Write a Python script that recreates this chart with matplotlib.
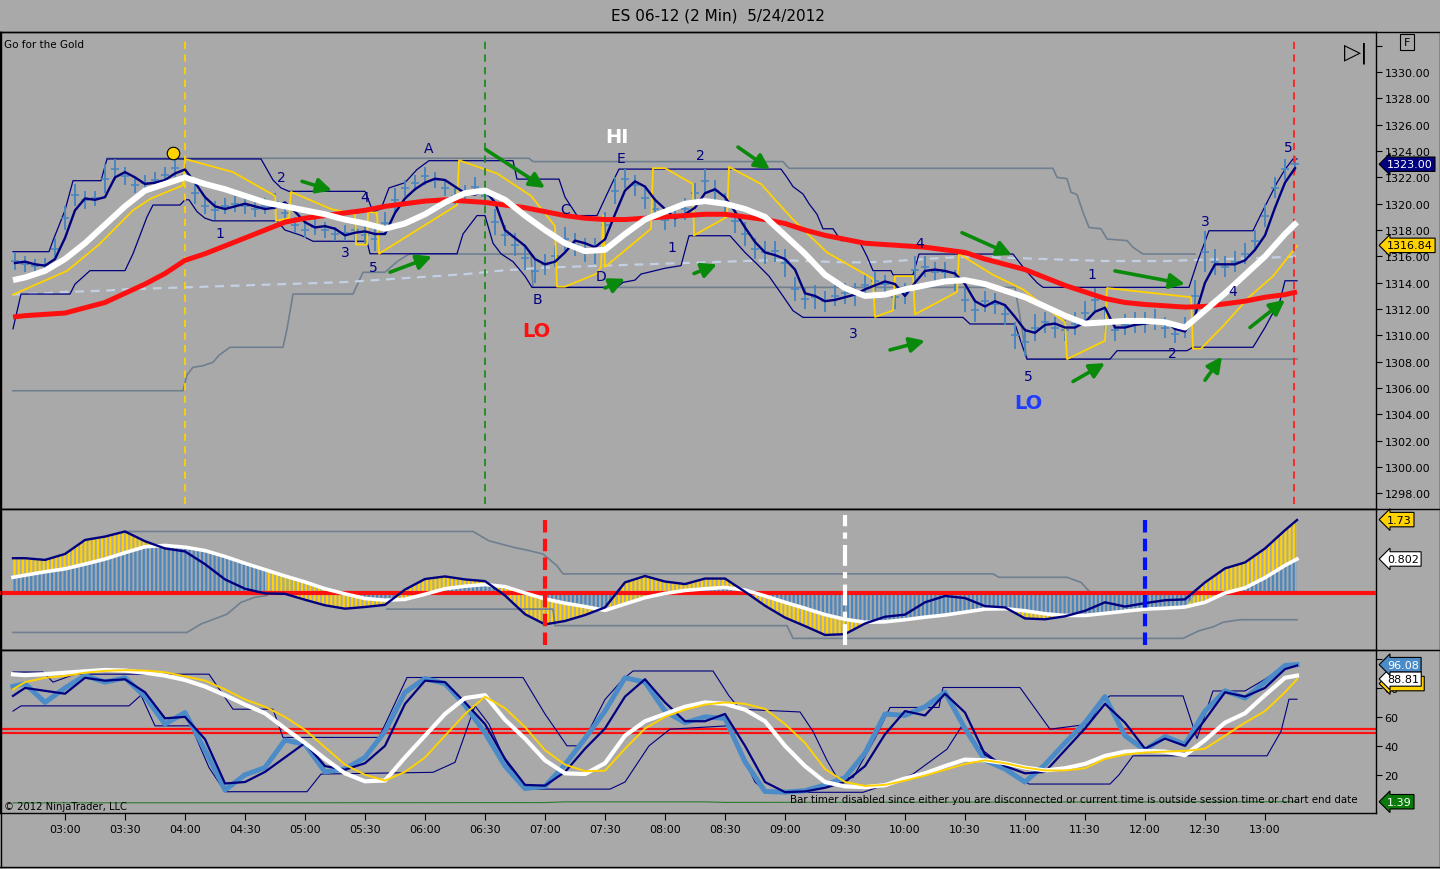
import numpy as np
import matplotlib.pyplot as plt
from matplotlib.lines import Line2D

plt.rcParams['font.family'] = ['DejaVu Sans']
plt.rcParams['hatch.linewidth'] = 1.6

BG = "#a9a9a9"
NAVY = "#000080"
STEEL = "#4a86bf"
GOLD = "#ffd200"
SLATE = "#6f7f90"

# ---------------- data (t = minutes after 03:00) ----------------
grid10 = np.r_[-26, np.arange(-20, 611, 10), 616]
grid5 = np.arange(-25, 616, 5)

white_top = [1314.2, 1314.4, 1314.9, 1315.8, 1317.0, 1318.4, 1319.8, 1321.0, 1321.5, 1322.0,
             1321.5, 1321.1, 1320.6, 1320.1, 1319.8, 1319.5, 1319.2, 1318.8, 1318.5, 1318.1,
             1318.5, 1319.2, 1320.1, 1320.8, 1321.0, 1320.3, 1319.1, 1318.0, 1317.0, 1316.4,
             1316.5, 1317.7, 1318.8, 1319.4, 1320.0, 1320.2, 1320.0, 1319.6, 1319.0, 1317.6,
             1316.2, 1314.6, 1313.6, 1313.0, 1313.1, 1313.5, 1313.8, 1314.1, 1314.2, 1313.9,
             1313.4, 1312.9, 1312.2, 1311.5, 1310.9, 1311.0, 1311.1, 1311.1, 1311.0, 1310.6,
             1311.9, 1313.2, 1314.6, 1316.0, 1317.7, 1318.6]
red_top = [1311.4, 1311.5, 1311.6, 1311.7, 1312.1, 1312.5, 1313.2, 1313.9, 1314.7, 1315.7,
           1316.2, 1316.8, 1317.4, 1318.0, 1318.6, 1318.9, 1319.1, 1319.3, 1319.5, 1319.8,
           1320.0, 1320.2, 1320.3, 1320.2, 1320.1, 1319.9, 1319.7, 1319.4, 1319.1, 1318.9,
           1318.8, 1318.8, 1318.9, 1319.0, 1319.1, 1319.2, 1319.2, 1319.0, 1318.8, 1318.5,
           1318.0, 1317.6, 1317.3, 1317.0, 1316.9, 1316.8, 1316.7, 1316.5, 1316.3, 1315.8,
           1315.4, 1315.0, 1314.4, 1313.8, 1313.3, 1312.8, 1312.5, 1312.35, 1312.25, 1312.15,
           1312.2, 1312.4, 1312.6, 1312.9, 1313.1, 1313.3]
dash_top = [1313.1, 1313.15, 1313.2, 1313.3, 1313.35, 1313.4, 1313.5, 1313.55, 1313.6, 1313.65,
            1313.7, 1313.75, 1313.8, 1313.85, 1313.9, 1313.95, 1314.0, 1314.05, 1314.15, 1314.25,
            1314.35, 1314.45, 1314.55, 1314.65, 1314.8, 1314.95, 1315.05, 1315.15, 1315.2, 1315.25,
            1315.3, 1315.35, 1315.4, 1315.45, 1315.5, 1315.55, 1315.6, 1315.65, 1315.7, 1315.7,
            1315.65, 1315.6, 1315.55, 1315.55, 1315.6, 1315.7, 1315.8, 1315.9, 1315.95, 1315.95,
            1315.9, 1315.85, 1315.8, 1315.75, 1315.7, 1315.65, 1315.65, 1315.65, 1315.65, 1315.7,
            1315.75, 1315.8, 1315.85, 1315.9, 1315.95, 1316.0]

navy_top = [1315.5, 1315.6, 1315.4, 1315.3, 1315.8,
            1317.4, 1319.5, 1320.4, 1320.3, 1320.5, 1322.0, 1322.4, 1322.0, 1321.5, 1321.6,
            1321.8, 1322.3, 1322.6, 1321.6, 1320.5, 1319.8, 1319.6, 1319.8, 1320.0, 1319.8,
            1319.6, 1319.7, 1320.1, 1319.4, 1318.6, 1318.2, 1318.3, 1318.1, 1317.6, 1317.8,
            1317.9, 1317.7, 1317.7, 1319.3, 1320.4, 1321.1, 1321.6, 1321.9, 1321.8, 1321.3,
            1320.8, 1320.7, 1321.0, 1320.1, 1318.0, 1317.4, 1316.8, 1315.8, 1315.4, 1315.6,
            1316.3, 1317.2, 1317.0, 1316.7, 1317.3, 1319.2, 1321.0, 1321.7, 1321.3, 1320.3,
            1319.6, 1318.9, 1319.2, 1319.7, 1320.8, 1321.1, 1320.5, 1319.4, 1318.2, 1317.1,
            1316.3, 1316.1, 1315.8, 1315.0, 1313.2, 1313.0, 1312.6, 1312.7, 1312.9, 1313.1,
            1313.5, 1313.8, 1314.1, 1313.9, 1313.0, 1314.0, 1314.9, 1315.0, 1314.9, 1314.7,
            1313.9, 1312.6, 1312.2, 1312.6, 1312.3, 1311.4, 1310.4, 1310.2, 1310.8, 1310.9,
            1310.6, 1310.6, 1311.0, 1311.8, 1312.1, 1310.6, 1310.6, 1310.8, 1310.9, 1311.0,
            1311.1, 1310.5, 1310.3, 1311.5, 1314.0, 1315.4, 1315.4, 1315.4, 1315.7, 1316.5,
            1317.6, 1319.7, 1321.6, 1322.7]

bar_hi = [1316.3, 1316.0, 1315.8, 1315.9, 1317.4,
          1319.8, 1321.5, 1321.0, 1321.0, 1323.0, 1323.4, 1322.8, 1322.0, 1322.2, 1322.4,
          1322.8, 1323.4, 1323.0, 1321.6, 1320.4, 1320.2, 1320.4, 1320.6, 1320.4, 1320.2,
          1320.4, 1320.8, 1320.0, 1319.0, 1318.6, 1318.9, 1318.6, 1318.2, 1318.4, 1318.8,
          1318.4, 1318.2, 1319.4, 1321.2, 1321.8, 1322.2, 1322.8, 1322.4, 1321.8, 1321.2,
          1321.4, 1322.0, 1321.4, 1319.6, 1318.4, 1317.8, 1316.8, 1315.8, 1316.2, 1316.8,
          1318.2, 1317.8, 1317.4, 1317.4, 1319.4, 1322.0, 1322.6, 1322.2, 1321.2, 1320.4,
          1319.6, 1319.8, 1320.4, 1321.6, 1322.6, 1321.8, 1320.8, 1319.6, 1318.6, 1317.4,
          1317.2, 1317.2, 1316.6, 1314.4, 1313.6, 1313.8, 1313.4, 1313.8, 1314.0, 1314.0,
          1314.6, 1314.9, 1314.6, 1313.8, 1314.0, 1316.0, 1316.0, 1315.6, 1315.6, 1315.0,
          1313.6, 1312.8, 1313.4, 1313.2, 1312.4, 1311.0, 1310.6, 1311.6, 1311.8, 1311.4,
          1311.2, 1311.8, 1312.6, 1313.6, 1312.2, 1311.2, 1311.6, 1311.8, 1311.8, 1312.0,
          1311.4, 1310.8, 1311.4, 1314.2, 1317.9, 1316.6, 1316.0, 1316.4, 1317.0, 1318.0,
          1320.0, 1322.0, 1323.4, 1323.6]
bar_lo = [1315.0, 1314.8, 1314.7, 1314.8, 1315.8,
          1318.0, 1319.8, 1319.6, 1319.8, 1320.8, 1321.8, 1321.4, 1320.8, 1321.0, 1321.2,
          1321.5, 1322.0, 1321.4, 1320.0, 1319.2, 1318.8, 1319.2, 1319.4, 1319.2, 1319.0,
          1319.2, 1319.5, 1318.6, 1317.8, 1317.4, 1317.6, 1317.4, 1317.2, 1317.2, 1317.2,
          1316.9, 1316.4, 1317.6, 1319.4, 1320.6, 1321.0, 1321.4, 1321.2, 1320.6, 1320.0,
          1320.2, 1320.6, 1319.8, 1317.6, 1316.8, 1316.0, 1315.0, 1314.0, 1314.6, 1315.2,
          1316.4, 1316.0, 1315.6, 1315.4, 1317.4, 1320.0, 1321.2, 1320.6, 1319.6, 1318.8,
          1318.0, 1318.2, 1318.8, 1320.0, 1320.8, 1320.2, 1319.2, 1317.8, 1316.8, 1315.8,
          1315.4, 1315.6, 1314.4, 1312.6, 1312.0, 1312.0, 1311.8, 1312.2, 1312.4, 1312.2,
          1313.0, 1313.4, 1313.2, 1312.0, 1312.4, 1314.0, 1314.4, 1314.0, 1314.0, 1313.4,
          1311.8, 1311.0, 1311.8, 1311.6, 1310.8, 1309.0, 1308.4, 1309.6, 1310.2, 1309.8,
          1309.6, 1310.0, 1310.8, 1311.8, 1310.2, 1309.6, 1310.0, 1310.2, 1310.2, 1310.4,
          1309.8, 1309.4, 1309.8, 1311.8, 1314.8, 1314.6, 1314.4, 1314.8, 1315.4, 1316.4,
          1318.2, 1320.4, 1321.8, 1322.4]

yel_t = [-26, 1, 17, 34, 43, 59, 60, 84, 105, 105.5, 112, 113, 133, 145, 145.5, 151, 151.5,
         156, 157, 196, 197, 216, 233, 245, 246, 250, 266, 268, 269, 270, 293, 294, 300, 314,
         314.5, 331, 332, 348, 364, 381, 404, 405, 414, 415, 424, 425, 446, 447, 464, 479, 500,
         501, 520, 521, 563, 564, 568, 579, 592, 604, 616]
yel_v = [1313.1, 1314.9, 1316.9, 1319.5, 1320.4, 1321.4, 1323.4, 1322.4, 1320.6, 1318.7,
         1318.9, 1320.9, 1319.6, 1319.2, 1316.9, 1316.9, 1319.4, 1319.3, 1316.2, 1319.9,
         1323.3, 1322.3, 1320.6, 1318.3, 1313.7, 1313.7, 1314.7, 1315.2, 1319.1, 1315.2,
         1318.1, 1322.7, 1322.7, 1321.5, 1317.6, 1319.0, 1322.8, 1321.5, 1318.8, 1316.3,
         1314.3, 1311.4, 1311.9, 1314.5, 1314.5, 1311.6, 1313.3, 1316.2, 1314.6, 1313.5,
         1311.0, 1308.2, 1309.6, 1313.6, 1312.9, 1309.0, 1309.0, 1310.7, 1312.9, 1314.5, 1316.8]

chan_up = [(-26, 1316.36), (-8, 1316.36), (-6, 1317.2), (0, 1319.5), (4, 1321.75), (18, 1321.75),
           (21, 1323.4), (98, 1323.4), (101, 1322.6), (104, 1321.8), (108, 1321.2), (112, 1320.94),
           (150, 1320.94), (154, 1319.4), (158, 1319.6), (162, 1321.2), (170, 1321.6), (176, 1322.6),
           (182, 1323.27), (224, 1323.27), (226, 1321.87), (247, 1321.87), (250, 1320.5), (256, 1319.1),
           (266, 1319.1), (270, 1320.4), (274, 1321.7), (277, 1322.63), (358, 1322.63), (361, 1322.0),
           (364, 1321.3), (369, 1320.74), (372, 1320.0), (376, 1319.2), (379, 1318.1), (384, 1318.1),
           (388, 1317.2), (397, 1317.2), (401, 1316.0), (404, 1314.92), (413, 1314.92), (414, 1314.6),
           (424, 1314.6), (427, 1316.18), (474, 1316.18), (480, 1315.0), (486, 1314.0), (489, 1313.65),
           (562, 1313.65), (566, 1315.5), (572, 1317.95), (594, 1317.95), (598, 1319.2), (602, 1320.4),
           (606, 1321.6), (610, 1322.6), (614, 1323.4), (616, 1323.4)]
chan_lo = [(-26, 1310.5), (-22, 1313.14), (2.5, 1313.14), (5, 1313.9), (8, 1314.3), (12.5, 1314.92),
           (30, 1314.92), (34, 1316.2), (38, 1317.8), (41, 1319.0), (44, 1319.9), (57.5, 1319.9),
           (60, 1320.3), (62, 1320.3), (66, 1319.4), (70, 1318.9), (74, 1318.7), (106, 1318.7),
           (110, 1318.0), (118, 1317.6), (124, 1317.15), (151, 1317.15), (152.5, 1316.2), (196, 1316.2),
           (199, 1317.7), (206, 1319.1), (210, 1319.1), (214, 1317.0), (218, 1316.2), (224, 1315.6),
           (230, 1314.5), (233.5, 1313.65), (276, 1313.65), (279, 1314.03), (285, 1314.2), (288, 1314.66),
           (300, 1315.1), (308, 1315.3), (312, 1317.57), (332.5, 1317.57), (340, 1316.3), (346, 1315.42),
           (352, 1314.5), (358, 1313.2), (364, 1311.88), (369, 1311.37), (449, 1311.37), (452.5, 1310.87),
           (475, 1310.87), (478, 1309.5), (481, 1308.2), (522.5, 1308.2), (526, 1308.84), (561, 1308.84),
           (564, 1309.1), (594, 1309.1), (600, 1310.6), (605, 1312.0), (607.5, 1312.64), (610, 1314.15),
           (616, 1314.15)]
gray_up = [(21, 1323.45), (232, 1323.45), (234, 1323.2), (359, 1323.2), (362, 1322.69), (494, 1322.69),
           (496, 1322.0), (501, 1321.9), (503, 1320.87), (506, 1320.7), (509, 1319.35), (512, 1318.2),
           (518, 1318.1), (521, 1317.32), (531, 1317.2), (534, 1316.69), (539, 1316.18), (565, 1316.18)]
gray_lo = [(-26, 1305.8), (59, 1305.8), (61, 1307.0), (64, 1307.58), (69, 1307.7), (74, 1307.96),
           (77, 1308.5), (82.5, 1309.1), (109, 1309.1), (111, 1310.49), (114, 1313.14), (144, 1313.14),
           (149, 1314.79), (160, 1314.8), (166, 1315.6), (172, 1316.18), (233, 1316.18), (234, 1313.65),
           (475, 1313.65), (481, 1308.2), (616, 1308.2)]

# middle panel (MACD style)
navy_mid = [0.82, 0.82, 0.78, 0.92, 1.25, 1.33, 1.45, 1.22, 1.05, 0.98,
            0.68, 0.32, 0.10, -0.01, -0.02, -0.16, -0.29, -0.37, -0.33, -0.28,
            0.08, 0.33, 0.39, 0.32, 0.28, -0.06, -0.50, -0.74, -0.66, -0.52,
            -0.34, 0.25, 0.40, 0.27, 0.21, 0.34, 0.34, 0.03, -0.30, -0.58,
            -0.78, -0.99, -0.97, -0.72, -0.56, -0.51, -0.22, -0.07, -0.12, -0.31,
            -0.34, -0.60, -0.62, -0.55, -0.42, -0.22, -0.32, -0.24, -0.17, -0.15,
            0.25, 0.58, 0.72, 1.05, 1.48, 1.72]
white_mid = [0.37, 0.42, 0.50, 0.57, 0.68, 0.80, 0.95, 1.09, 1.12, 1.08,
             1.00, 0.86, 0.70, 0.55, 0.40, 0.26, 0.10, -0.02, -0.13, -0.17,
             -0.15, -0.03, 0.10, 0.16, 0.20, 0.15, 0.00, -0.14, -0.24, -0.32,
             -0.41, -0.26, -0.11, -0.01, 0.06, 0.10, 0.13, 0.07, -0.07, -0.22,
             -0.36, -0.51, -0.62, -0.69, -0.68, -0.63, -0.57, -0.52, -0.45, -0.38,
             -0.37, -0.42, -0.49, -0.53, -0.53, -0.48, -0.43, -0.38, -0.36, -0.33,
             -0.22, 0.00, 0.12, 0.36, 0.65, 0.80]
mid_up = [(30, 1.45), (204, 1.45), (212, 1.23), (224, 1.08), (232, 1.0), (239, 0.92), (246, 0.64),
          (249, 0.45), (464, 0.45), (467, 0.37), (501, 0.37), (508, 0.25), (512.5, 0.02)]
mid_lo1 = [(-26, -0.93), (61, -0.93), (68, -0.73), (81, -0.5), (88, -0.22), (95, -0.10), (101, -0.06)]
mid_lo2 = [(161, -0.38), (244, -0.38), (245, -0.77), (361, -0.77), (364, -1.07), (559, -1.07),
           (567, -0.89), (574, -0.80), (579, -0.69), (587.5, -0.63), (616, -0.63)]

# bottom panel (stochastics)
steel_bot = [81, 83, 70, 80, 88.5, 84, 87, 74, 55, 63,
             37, 9.5, 20, 25, 44, 41, 22, 24, 32, 50,
             77, 86.5, 83, 68, 49, 26, 10.5, 12, 27, 45,
             64, 87, 84, 64, 56, 60, 59, 29, 8.5, 8,
             9, 13, 18, 35, 62, 61, 67, 77, 52, 30,
             24, 15, 27, 42, 56, 74, 47, 37, 46.5, 41,
             64, 78, 73, 84, 95.5, 96.1]
navy_bot = [74.5, 80, 78, 76, 87, 85, 86, 77, 59, 60,
            44.6, 14, 15, 22, 32, 42, 26, 23.5, 28, 40,
            69, 85, 84, 70, 55, 31, 13, 12.5, 22, 38,
            52, 74, 86, 70, 57, 57, 62, 40, 15, 8,
            8.5, 11, 15, 26, 48, 64, 61, 76, 63, 34,
            26, 21, 22, 37, 52, 69, 56, 38, 45, 40,
            58, 77, 74, 80, 93, 95.5]
white_bot = [89.4, 88.8, 89.5, 90.5, 91.5, 92.4, 92.0, 90.5, 88.5, 85.5,
             81, 75, 68.5, 62.5, 52, 42, 31, 21, 15.5, 16,
             32, 47, 62, 73, 75, 58, 45, 30, 21, 20.5,
             28, 47, 57, 62, 67, 70, 69, 65, 57, 40,
             26, 15, 12, 11.5, 12.8, 17.5, 21, 26, 30.5, 30,
             28, 25, 23, 24.5, 27.5, 33, 36, 36.5, 36, 33.5,
             44, 56, 62.5, 75, 87, 88.5]
yel_bot = [79, 84, 87, 88.3, 90.5, 91.8, 92.3, 92, 90.8, 88,
           85, 79, 72, 67, 60, 51, 39, 27, 20, 16,
           22, 32, 47, 62, 74, 66, 53, 37, 27, 22.5,
           22.8, 38, 52, 60, 65, 68.5, 70, 69, 65.5, 55,
           42, 24, 15, 12.3, 13, 16, 19.5, 23.5, 27.5, 30,
           28, 25, 23, 23, 24.5, 31, 34, 35.4, 36, 36.5,
           38, 47, 56, 64, 77, 86]
bot_up = [(-26, 91), (-11, 91), (-6, 84), (5, 89.5), (72, 89.5), (84, 65.3), (104, 65.3), (109, 45.8),
          (157, 45.8), (171, 87.2), (229, 87.2), (240, 62), (251, 40), (258, 40), (270, 72), (279, 86),
          (284, 91.7), (324, 91.7), (332, 74.5), (337.5, 65.3), (367.5, 63.4), (374, 50), (381, 30),
          (386, 18), (394, 18), (405, 45), (412.5, 66.5), (437, 66.5), (439, 80.3), (477.5, 80.3),
          (492.5, 51.5), (512, 55), (518, 70), (522.5, 74.5), (559, 74.5), (566, 45), (574, 77.9),
          (590, 77.9), (600, 86), (610, 95), (616, 96)]
bot_lo = [(-26, 64), (-22, 67.6), (32, 67.6), (38, 75), (45, 53.8), (63, 53.8), (72, 25), (80, 8.3),
          (121, 8.3), (128, 20.5), (184, 21.7), (195, 28.6), (205, 67.6), (212, 55), (220, 30),
          (230, 10.1), (272.5, 10.1), (280, 15), (292, 40), (302.5, 51.5), (331, 53.8), (338, 35),
          (345, 15), (351, 7.9), (399, 7.9), (408, 12), (424, 20.5), (441, 37.7), (449, 55), (456, 40),
          (470, 25), (482, 13.6), (522.5, 13.6), (527, 20), (534, 33.1), (601, 33.1), (608, 50),
          (612, 72.2), (616, 72.2)]
green_bot = [(-26, 0.6), (240, 0.8), (250, 1.3), (320, 1.3), (330, 0.9), (616, 1.39)]

tick_times = np.arange(0, 601, 30)
tick_labels = ["03:00", "03:30", "04:00", "04:30", "05:00", "05:30", "06:00", "06:30", "07:00",
               "07:30", "08:00", "08:30", "09:00", "09:30", "10:00", "10:30", "11:00", "11:30",
               "12:00", "12:30", "13:00"]

arrows = [((118.5, 1321.7), (133.5, 1321.0)), ((162.5, 1314.8), (183.5, 1316.0)),
          ((210.5, 1324.1), (240, 1321.2)), ((270, 1313.6), (280, 1314.3)),
          ((314.5, 1314.7), (326, 1315.4)), ((336.5, 1324.3), (352.5, 1322.6)),
          ((412.5, 1308.9), (430, 1309.6)), ((448.5, 1317.8), (473.5, 1316.1)),
          ((504, 1306.5), (520, 1307.9)), ((525, 1314.9), (560, 1313.9)),
          ((570, 1306.6), (578.5, 1308.4)), ((592.5, 1310.6), (610, 1312.7))]
wave_labels = [(77.5, 1317.8, "1"), (108, 1322.0, "2"), (140, 1316.3, "3"), (150, 1320.5, "4"),
               (154, 1315.2, "5"), (182, 1324.2, "A"), (236, 1312.8, "B"), (250, 1319.6, "C"),
               (268, 1314.5, "D"), (278, 1323.5, "E"), (303.5, 1316.7, "1"), (317.5, 1323.7, "2"),
               (394, 1310.2, "3"), (427.5, 1317.0, "4"), (481.5, 1306.9, "5"), (513.5, 1314.7, "1"),
               (553.5, 1308.7, "2"), (570, 1318.7, "3"), (584, 1313.4, "4"), (611.5, 1324.3, "5")]

# ---------------- layout ----------------
fig = plt.figure(figsize=(14.4, 8.7), dpi=100, facecolor=BG)


def panel(top, bottom):
    ax = fig.add_axes([0.0, 1 - bottom / 870, 1376 / 1440, (bottom - top) / 870])
    ax.set_facecolor(BG)
    ax.set_xlim(-32.5, 655.5)
    for s in ax.spines.values():
        s.set_color("black")
        s.set_linewidth(1)
    ax.yaxis.tick_right()
    ax.tick_params(axis="y", direction="out", length=4, labelsize=8, pad=2, colors="black")
    ax.tick_params(axis="x", bottom=False, labelbottom=False)
    return ax


ax1 = panel(33, 510)
ax2 = panel(510, 651)
ax3 = panel(651, 814)

# ---------------- top panel ----------------
ax1.set_ylim(1296.82, 1333.04)
ax1.set_yticks(np.arange(1298, 1333, 2))
ax1.set_yticklabels(["%.2f" % v for v in np.arange(1298, 1331, 2)] + [""])

for pts, col in [(gray_up, SLATE), (gray_lo, SLATE)]:
    t, v = zip(*pts)
    ax1.plot(t, v, color=col, lw=1.2, zorder=2)
ax1.plot(grid10, dash_top, color="#c3d0e4", lw=1.6, ls=(0, (4, 3)), zorder=2)
for pts in [chan_up, chan_lo]:
    t, v = zip(*pts)
    ax1.plot(t, v, color=NAVY, lw=0.9, zorder=3)

mid_px = (np.array(bar_hi) + np.array(bar_lo)) / 2
ax1.vlines(grid5, bar_lo, bar_hi, color=STEEL, lw=1.4, zorder=3)
ax1.plot(grid5, mid_px, ls="none", marker=0, ms=3, mew=1.2, color=STEEL, zorder=3)
ax1.plot(grid5, mid_px, ls="none", marker=1, ms=3, mew=1.2, color=STEEL, zorder=3)

for tv, col in [(60, GOLD), (210, "#1f8a1f"), (614.5, "#ff2020")]:
    ax1.axvline(tv, ymin=0.0105, ymax=0.985, color=col, lw=1.3, ls=(0, (4, 3)), zorder=4.5)

ax1.plot(yel_t, yel_v, color=GOLD, lw=1.3, zorder=4)
ax1.plot(grid5, navy_top, color=NAVY, lw=1.7, zorder=5)
ax1.plot(grid10, red_top, color="#ff1010", lw=3.6, zorder=6, solid_capstyle="butt")
ax1.plot(grid10, white_top, color="white", lw=4.3, zorder=7, solid_capstyle="butt")
ax1.plot(54, 1323.85, "o", ms=9, mfc=GOLD, mec="black", mew=0.8, zorder=8)

for (x0, y0), (x1, y1) in arrows:
    ax1.annotate("", xy=(x1, y1), xytext=(x0, y0), zorder=9,
                 arrowprops=dict(arrowstyle="-|>,head_length=0.9,head_width=0.45",
                                 color="#0a8a0a", lw=2.6, shrinkA=0, shrinkB=0))
for tx, py, s in wave_labels:
    ax1.text(tx, py, s, color=NAVY, fontsize=10, ha="center", va="center", zorder=9)
ax1.text(276, 1325.1, "HI", color="white", fontsize=14, fontweight="bold", ha="center", va="center", zorder=9)
ax1.text(235.5, 1310.4, "LO", color="#ff1010", fontsize=14, fontweight="bold", ha="center", va="center", zorder=9)
ax1.text(481.5, 1304.9, "LO", color="#1f3cff", fontsize=14, fontweight="bold", ha="center", va="center", zorder=9)
ax1.text(0.003, 0.975, "Go for the Gold", transform=ax1.transAxes, fontsize=7.5, ha="left", va="center")
ax1.text(1356 / 1376, 0.958, "\u25b7|", transform=ax1.transAxes, fontsize=16, ha="center", va="center")


def tag(ax, y, text, fc, tc, z):
    ax.text(1.008, y, text, transform=ax.get_yaxis_transform(), ha="left", va="center",
            fontsize=8, color=tc, zorder=z, clip_on=False,
            bbox=dict(boxstyle="larrow,pad=0.2", fc=fc, ec="black", lw=0.8))


tag(ax1, 1323.0, "1323.00", NAVY, "white", 12)
tag(ax1, 1316.84, "1316.84", GOLD, "black", 12)

# ---------------- middle panel ----------------
ax2.set_ylim(-1.344, 1.98)
ax2.set_yticks([])
nm = np.array(navy_mid)
wm = np.array(white_mid)
ax2.fill_between(grid10, 0, wm, facecolor="none", edgecolor=STEEL, hatch="||||", lw=0, zorder=2)
cond = (np.abs(nm) > np.abs(wm)) | (nm * wm < 0)
ax2.fill_between(grid10, wm, nm, where=cond, interpolate=True, facecolor="none",
                 edgecolor=GOLD, hatch="||||", lw=0, zorder=2)
for pts in [mid_up, mid_lo1, mid_lo2]:
    t, v = zip(*pts)
    ax2.plot(t, v, color=SLATE, lw=1.2, zorder=3)
ax2.axhline(0, color="#ff1010", lw=3, zorder=3)
ax2.plot(grid10, wm, color="white", lw=2.6, zorder=4)
ax2.plot(grid10, nm, color=NAVY, lw=1.7, zorder=5)
ax2.axvline(240, ymin=0.035, ymax=0.957, color="#ff1010", lw=3, ls=(0, (3, 1.5)), zorder=6)
ax2.axvline(390, ymin=0.035, ymax=0.957, color="white", lw=3, ls=(0, (5, 1.5, 1.5, 1.5)), zorder=6)
ax2.axvline(540, ymin=0.035, ymax=0.957, color="#0010ff", lw=3, ls=(0, (3, 1.5)), zorder=6)
tag(ax2, 1.73, "1.73", GOLD, "black", 12)
tag(ax2, 0.802, "0.802", "white", "black", 12)

# ---------------- bottom panel ----------------
ax3.set_ylim(-6.4, 106.2)
ax3.set_yticks([20, 40, 60, 80, 100])
ax3.set_yticklabels(["20", "40", "60", "80", ""])
ax3.axhline(51.3, color="#ff1010", lw=1.6, zorder=2)
ax3.axhline(48.9, color="#ff1010", lw=1.6, zorder=2)
t, v = zip(*green_bot)
ax3.plot(t, v, color="#2f7a2f", lw=0.8, zorder=2)
for pts in [bot_up, bot_lo]:
    t, v = zip(*pts)
    ax3.plot(t, v, color=NAVY, lw=0.8, zorder=3)
ax3.plot(grid10, steel_bot, color="#4b8cc8", lw=3.6, zorder=4)
ax3.plot(grid10, navy_bot, color=NAVY, lw=1.6, zorder=5)
ax3.plot(grid10, white_bot, color="white", lw=3, zorder=6)
ax3.plot(grid10, yel_bot, color=GOLD, lw=1.4, zorder=7)
tag(ax3, 83.0, "          ", GOLD, "black", 10)
tag(ax3, 86.2, "88.81", "white", "black", 11)
tag(ax3, 96.08, "96.08", "#4b8cc8", "white", 12)
tag(ax3, 1.39, "1.39", "#0a7a0a", "white", 12)
ax3.text(0.003, 0.045, "\u00a9 2012 NinjaTrader, LLC", transform=ax3.transAxes, fontsize=7.2,
         ha="left", va="center")
ax3.text(1358 / 1376, 0.086, "Bar timer disabled since either you are disconnected or current "
         "time is outside session time or chart end date", transform=ax3.transAxes,
         fontsize=7.4, ha="right", va="center")

ax3.set_xticks(tick_times)
ax3.set_xticklabels(tick_labels)
ax3.tick_params(axis="x", bottom=True, labelbottom=True, direction="out", length=5,
                labelsize=8, pad=3, colors="black")

# ---------------- frame / title ----------------
for ypx in [33, 510, 651, 868]:
    fig.add_artist(Line2D([0, 1], [1 - ypx / 870] * 2, transform=fig.transFigure, color="black", lw=1))
for xpx in [0.5, 1439.5]:
    fig.add_artist(Line2D([xpx / 1440] * 2, [1 - 868 / 870, 1 - 33 / 870], transform=fig.transFigure,
                          color="black", lw=1))
fig.text(0.4986, 1 - 16 / 870, "ES 06-12 (2 Min)  5/24/2012", fontsize=11, ha="center", va="center")
fig.text(1407 / 1440, 1 - 43 / 870, "F", fontsize=8, ha="center", va="center",
         bbox=dict(boxstyle="square,pad=0.3", fc="none", ec="black", lw=0.8))

fig.savefig("out.png", dpi=100, facecolor=BG)
